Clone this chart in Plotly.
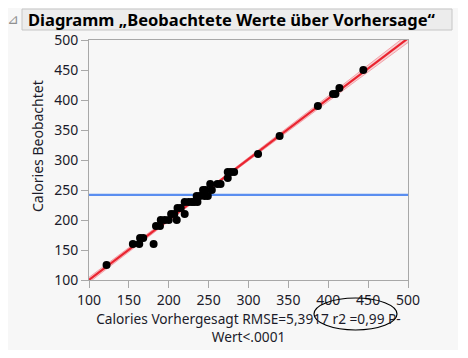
import numpy as np
import plotly.graph_objects as go

# Data
predicted = [122, 155, 163, 164, 168, 181, 184, 189, 190, 195, 200, 203, 207, 210, 211, 215,
             220, 220, 225, 229, 232, 236, 235, 239, 243, 246, 245, 249, 254, 252, 261, 265,
             274, 274, 278, 282, 312, 339, 387, 406, 409, 414, 444]
observed = [125, 160, 160, 170, 170, 160, 190, 190, 200, 200, 200, 210, 210, 200, 220, 220,
            210, 230, 230, 230, 230, 230, 240, 240, 250, 250, 240, 240, 250, 260, 260, 260,
            270, 280, 280, 280, 310, 340, 390, 410, 410, 420, 450]
mean_observed = 242
tick_vals = [100, 150, 200, 250, 300, 350, 400, 450, 500]

title_text = "Diagramm „Beobachtete Werte über Vorhersage“"
x_title = "Calories Vorhergesagt RMSE=5,3917 r2 =0,99 P-<br>Wert&lt;.0001"
y_title = "Calories Beobachtet"

OFF = 8                       # page body margin
W, H = 468 - OFF, 358 - OFF
L, R, T, B = 89, 408, 40, 280   # plot area box in screen pixels

def px(xp):
    return (xp - L) / (R - L)

def py(yp):
    return (B - yp) / (B - T)

# regression fit and confidence band derived from data
xa = np.array(predicted, float)
ya = np.array(observed, float)
slope, intercept = np.polyfit(xa, ya, 1)
resid = ya - (slope * xa + intercept)
n = len(xa)
s = np.sqrt((resid ** 2).sum() / (n - 2))
sxx = ((xa - xa.mean()) ** 2).sum()
xs = np.linspace(100, 500, 81)
fit = slope * xs + intercept
half = 2.02 * s * np.sqrt(1 / n + (xs - xa.mean()) ** 2 / sxx)

font = "Noto Sans"
txt = "#1b1b2a"

fig = go.Figure()
fig.add_trace(go.Scatter(x=xs, y=fit - half, mode="lines",
                         line=dict(color="rgba(240,120,130,0.6)", width=1), hoverinfo="skip"))
fig.add_trace(go.Scatter(x=xs, y=fit + half, mode="lines", fill="tonexty",
                         fillcolor="rgba(245,140,150,0.35)",
                         line=dict(color="rgba(240,120,130,0.6)", width=1), hoverinfo="skip"))
fig.add_trace(go.Scatter(x=xs, y=fit, mode="lines",
                         line=dict(color="#ea2430", width=2.2), hoverinfo="skip"))
fig.add_trace(go.Scatter(x=[100, 500], y=[mean_observed, mean_observed], mode="lines",
                         line=dict(color="#5a8ef0", width=2.2), hoverinfo="skip"))
fig.add_trace(go.Scatter(x=predicted, y=observed, mode="markers",
                         marker=dict(color="black", size=8, line=dict(width=0))))

axis_common = dict(range=[100, 500], tickvals=tick_vals, ticks="outside", ticklen=7,
                   tickcolor="#a8a8a8", showline=True, linecolor="#a8a8a8", linewidth=1,
                   mirror=True, showgrid=False, zeroline=False,
                   tickfont=dict(family=font, size=14, color=txt))

fig.update_layout(
    width=W, height=H,
    margin=dict(l=L - OFF, r=468 - R, t=T - OFF, b=358 - B, pad=0),
    paper_bgcolor="white", plot_bgcolor="white",
    showlegend=False,
    xaxis=dict(**axis_common,
               title=dict(text=x_title, font=dict(family=font, size=13.7, color=txt), standoff=2)),
    yaxis=dict(**axis_common),
    shapes=[
        dict(type="rect", xref="paper", yref="paper", x0=px(OFF), x1=px(458), y0=py(OFF), y1=py(350),
             fillcolor="#f7f7f7", line=dict(width=0), layer="below"),
        dict(type="rect", xref="paper", yref="paper", x0=px(22), x1=px(452), y0=py(9), y1=py(30),
             fillcolor="#ececec", line=dict(color="#c6c6c6", width=1), layer="below"),
        dict(type="circle", xref="paper", yref="paper", x0=px(314), x1=px(397),
             y0=py(298), y1=py(330), line=dict(color="black", width=1.2)),
    ],
    annotations=[
        dict(text="<b>" + title_text + "</b>", xref="paper", yref="paper",
             x=px(26), y=py(19.5), xanchor="left", yanchor="middle", showarrow=False,
             font=dict(family=font, size=16.5, color="black")),
        dict(text="⊿", xref="paper", yref="paper", x=px(13), y=py(19.5), xanchor="center",
             yanchor="middle", showarrow=False,
             font=dict(family="DejaVu Sans", size=14, color="#909090")),
        dict(text=y_title, xref="paper", yref="paper", x=px(37), y=py(146), xanchor="center",
             yanchor="middle", textangle=-90, showarrow=False,
             font=dict(family=font, size=14, color=txt)),
    ],
)

fig.write_html("out.html")
